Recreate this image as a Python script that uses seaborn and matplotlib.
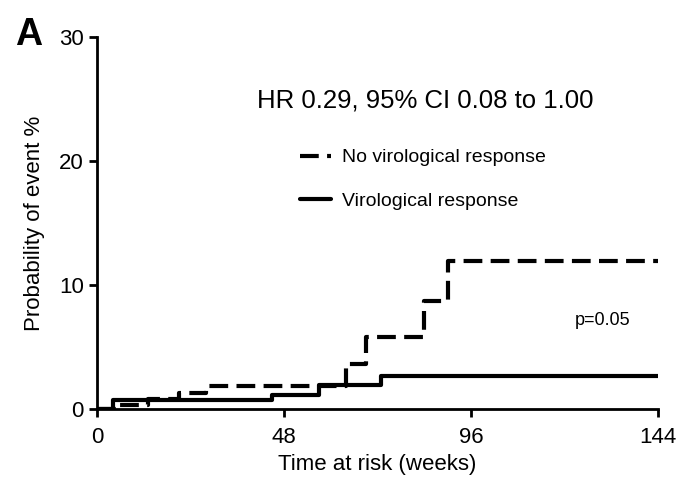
import numpy as np
import pandas as pd
import seaborn as sns
import matplotlib
matplotlib.use('Agg')
import matplotlib.pyplot as plt

sns.set_style('ticks')
plt.rcParams['font.family'] = ['Liberation Sans', 'DejaVu Sans']
plt.rcParams.update({'text.color': 'black', 'axes.labelcolor': 'black',
                     'xtick.color': 'black', 'ytick.color': 'black',
                     'axes.edgecolor': 'black'})

# Kaplan-Meier style step data (weeks, cumulative %)
no_resp_weeks = [0, 5, 13, 21, 28, 64, 69, 84, 90, 144]
no_resp_prob = [0, 0.35, 0.8, 1.25, 1.85, 3.6, 5.8, 8.7, 11.9, 11.9]
resp_weeks = [0, 4, 45, 57, 73, 144]
resp_prob = [0, 0.7, 1.1, 1.9, 2.65, 2.65]

x_ticks = [0, 48, 96, 144]
y_ticks = [0, 10, 20, 30]

df = pd.concat([
    pd.DataFrame({'week': no_resp_weeks, 'prob': no_resp_prob, 'group': 'No virological response'}),
    pd.DataFrame({'week': resp_weeks, 'prob': resp_prob, 'group': 'Virological response'}),
])

fig = plt.figure(figsize=(6.8, 4.8), dpi=100)
ax = fig.add_axes([0.1426, 0.148, 0.825, 0.775])

sns.lineplot(data=df, x='week', y='prob', hue='group', style='group',
             palette=['black', 'black'], dashes=[(4.5, 2), ''],
             drawstyle='steps-post', linewidth=3, estimator=None,
             sort=False, ax=ax)

ax.set_xlim(0, 144)
ax.set_ylim(0, 30)
ax.set_xticks(x_ticks)
ax.set_yticks(y_ticks)
ax.tick_params(labelsize=16, width=2, length=6, direction='out')
ax.tick_params(axis='x', pad=7)
for side in ['left', 'bottom']:
    ax.spines[side].set_linewidth(2)
sns.despine(ax=ax)

ax.set_xlabel('Time at risk (weeks)', fontsize=16, labelpad=4)
ax.set_ylabel('Probability of event %', fontsize=16, labelpad=10)

ax.legend(frameon=False, loc='center left', bbox_to_anchor=(0.33, 0.617),
          fontsize=14, handlelength=1.6, labelspacing=1.35, handletextpad=0.6)

ax.text(0.585, 0.83, 'HR 0.29, 95% CI 0.08 to 1.00', transform=ax.transAxes,
        ha='center', va='center', fontsize=18.5)
ax.text(0.902, 0.239, 'p=0.05', transform=ax.transAxes,
        ha='center', va='center', fontsize=13)
fig.text(0.042, 0.927, 'A', fontsize=27, fontweight='bold', ha='center', va='center')

fig.savefig('out.png', dpi=100)
